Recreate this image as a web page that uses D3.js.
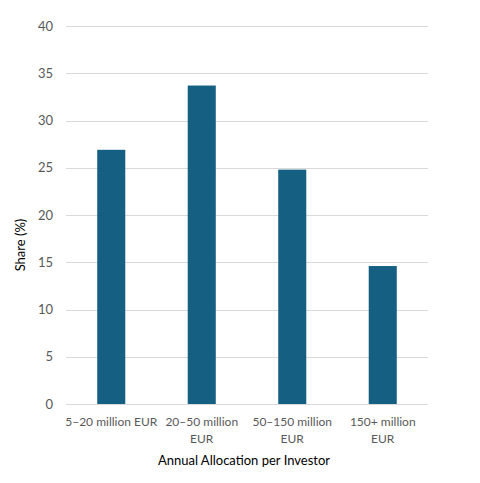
<!DOCTYPE html>
<html>
<head>
<meta charset="utf-8">
<script src="https://cdn.jsdelivr.net/npm/d3@7"></script>
<style>
  body { margin: 0; background: #fff; }
  text { font-family: Lato, "Open Sans", sans-serif; }
</style>
</head>
<body>
<svg width="480" height="483"></svg>
<script>
// chart data
const categories = ['5–20 million EUR', '20–50 million EUR', '50–150 million EUR', '150+ million EUR'];
const categoryLines = [['5–20 million EUR'], ['20–50 million', 'EUR'], ['50–150 million', 'EUR'], ['150+ million', 'EUR']];
const shares = [26.9, 33.7, 24.8, 14.6];
const yTicks = [0, 5, 10, 15, 20, 25, 30, 35, 40];

const data = categories.map(function (c, i) {
    return {cat: c, lines: categoryLines[i], value: shares[i]};
});

const svg = d3.select('svg'),
    margin = {top: 26, right: 52, bottom: 79, left: 66},
    width = +svg.attr('width'),
    height = +svg.attr('height');

const x = d3.scaleBand()
    .domain(categories)
    .range([margin.left, width - margin.right])
    .paddingInner(0.69)
    .paddingOuter(0.345);

const y = d3.scaleLinear()
    .domain([0, 40])
    .range([height - margin.bottom, margin.top]);

// gridlines
svg.append('g')
    .selectAll('line')
    .data(yTicks)
    .enter().append('line')
    .attr('x1', margin.left)
    .attr('x2', width - margin.right)
    .attr('y1', function (d) { return Math.round(y(d)) + 0.5; })
    .attr('y2', function (d) { return Math.round(y(d)) + 0.5; })
    .attr('stroke', '#d9d9d9')
    .attr('stroke-width', 1);

// y tick labels
svg.append('g')
    .selectAll('text')
    .data(yTicks)
    .enter().append('text')
    .attr('x', 53)
    .attr('y', function (d) { return y(d); })
    .attr('dy', '0.35em')
    .attr('text-anchor', 'end')
    .attr('fill', '#595959')
    .style('font-size', '13px')
    .text(function (d) { return d; });

// bars
svg.append('g')
    .selectAll('rect')
    .data(data)
    .enter().append('rect')
    .attr('x', function (d) { return x(d.cat); })
    .attr('width', x.bandwidth())
    .attr('y', function (d) { return y(d.value); })
    .attr('height', function (d) { return y(0) - y(d.value); })
    .attr('fill', '#156082');

// category labels
const catG = svg.append('g')
    .selectAll('text')
    .data(data)
    .enter().append('text')
    .attr('text-anchor', 'middle')
    .attr('fill', '#595959')
    .style('font-size', '12px');

catG.selectAll('tspan')
    .data(function (d) {
        return d.lines.map(function (l) { return {line: l, cx: x(d.cat) + x.bandwidth() / 2}; });
    })
    .enter().append('tspan')
    .attr('x', function (d) { return d.cx; })
    .attr('y', function (d, i) { return 426 + i * 16.5; })
    .text(function (d) { return d.line; });

// axis titles
svg.append('text')
    .attr('x', 244)
    .attr('y', 465)
    .attr('text-anchor', 'middle')
    .attr('fill', '#000')
    .style('font-size', '13px')
    .text('Annual Allocation per Investor');

svg.append('text')
    .attr('transform', 'translate(25,245) rotate(-90)')
    .attr('text-anchor', 'middle')
    .attr('fill', '#000')
    .style('font-size', '13px')
    .text('Share (%)');
</script>
</body>
</html>
